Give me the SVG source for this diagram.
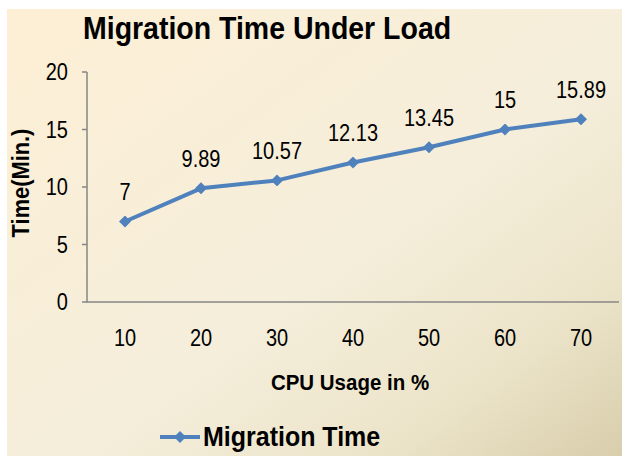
<svg xmlns="http://www.w3.org/2000/svg" width="622" height="456" viewBox="0 0 622 456">
<defs>
<linearGradient id="bg" x1="0" y1="0" x2="1" y2="1">
<stop offset="0" stop-color="#fdefd5"/>
<stop offset="0.55" stop-color="#f5eedb"/>
<stop offset="0.8" stop-color="#ece4c9"/>
<stop offset="1" stop-color="#d8ceac"/>
</linearGradient>
<marker id="dia" viewBox="-6 -6 12 12" markerWidth="12" markerHeight="12" markerUnits="userSpaceOnUse">
<path d="M0,-6 L6,0 L0,6 L-6,0 Z" fill="#4f81bd"/>
</marker>
<style>
.t{font-family:"Liberation Sans",Arial,sans-serif;fill:#000}
.b{font-weight:bold}
.ax{stroke:#868686;stroke-width:1.5;fill:none}
.ser{stroke:#4f81bd;stroke-width:4;fill:none;stroke-linejoin:round;marker-start:url(#dia);marker-mid:url(#dia);marker-end:url(#dia)}
</style>
</defs>
<rect x="0" y="0" width="622" height="456" fill="#ffffff"/>
<rect x="7" y="9" width="615" height="447" fill="url(#bg)"/>
<g id="title"><text class="t b" font-size="28.5" transform="translate(83,39) scale(1,1.1)">Migration Time Under Load</text></g>
<g id="axes">
<path class="ax" d="M87,72 V302 H619"/>
<path class="ax" d="M82,72 H87 M82,129.5 H87 M82,187 H87 M82,244.5 H87 M82,302 H87"/>
</g>
<g id="y-labels" class="t" font-size="20" text-anchor="end">
<text transform="translate(68,80) scale(1,1.18)">20</text>
<text transform="translate(68,137.5) scale(1,1.18)">15</text>
<text transform="translate(68,195) scale(1,1.18)">10</text>
<text transform="translate(68,252.5) scale(1,1.18)">5</text>
<text transform="translate(68,310) scale(1,1.18)">0</text>
</g>
<g id="x-labels" class="t" font-size="20" text-anchor="middle">
<text transform="translate(125,346) scale(1,1.18)">10</text>
<text transform="translate(201,346) scale(1,1.18)">20</text>
<text transform="translate(277,346) scale(1,1.18)">30</text>
<text transform="translate(353,346) scale(1,1.18)">40</text>
<text transform="translate(429,346) scale(1,1.18)">50</text>
<text transform="translate(505,346) scale(1,1.18)">60</text>
<text transform="translate(581,346) scale(1,1.18)">70</text>
</g>
<g id="y-title"><text class="t b" font-size="21" text-anchor="middle" transform="translate(29,183) rotate(-90) scale(1.04,1.1)">Time(Min.)</text></g>
<g id="x-title"><text class="t b" font-size="20.5" text-anchor="middle" transform="translate(350,390) scale(1,1.12)">CPU Usage in %</text></g>
<g id="connectors">
<polyline class="ser" points="125,221.5 201,188.3 277,180.4 353,162.5 429,147.3 505,129.5 581,119.3"/>
</g>
<g id="data-labels" class="t" font-size="20" text-anchor="middle">
<text transform="translate(125,200) scale(1,1.18)">7</text>
<text transform="translate(201,167) scale(1,1.18)">9.89</text>
<text transform="translate(277,159) scale(1,1.18)">10.57</text>
<text transform="translate(353,141) scale(1,1.18)">12.13</text>
<text transform="translate(429,126) scale(1,1.18)">13.45</text>
<text transform="translate(505,108) scale(1,1.18)">15</text>
<text transform="translate(581,98) scale(1,1.18)">15.89</text>
</g>
<g id="legend">
<line x1="160" y1="437" x2="200" y2="437" stroke="#4f81bd" stroke-width="4"/>
<path d="M180,431 L186,437 L180,443 L174,437 Z" fill="#4f81bd"/>
<text class="t b" font-size="25" transform="translate(203,446) scale(1,1.08)">Migration Time</text>
</g>
</svg>
